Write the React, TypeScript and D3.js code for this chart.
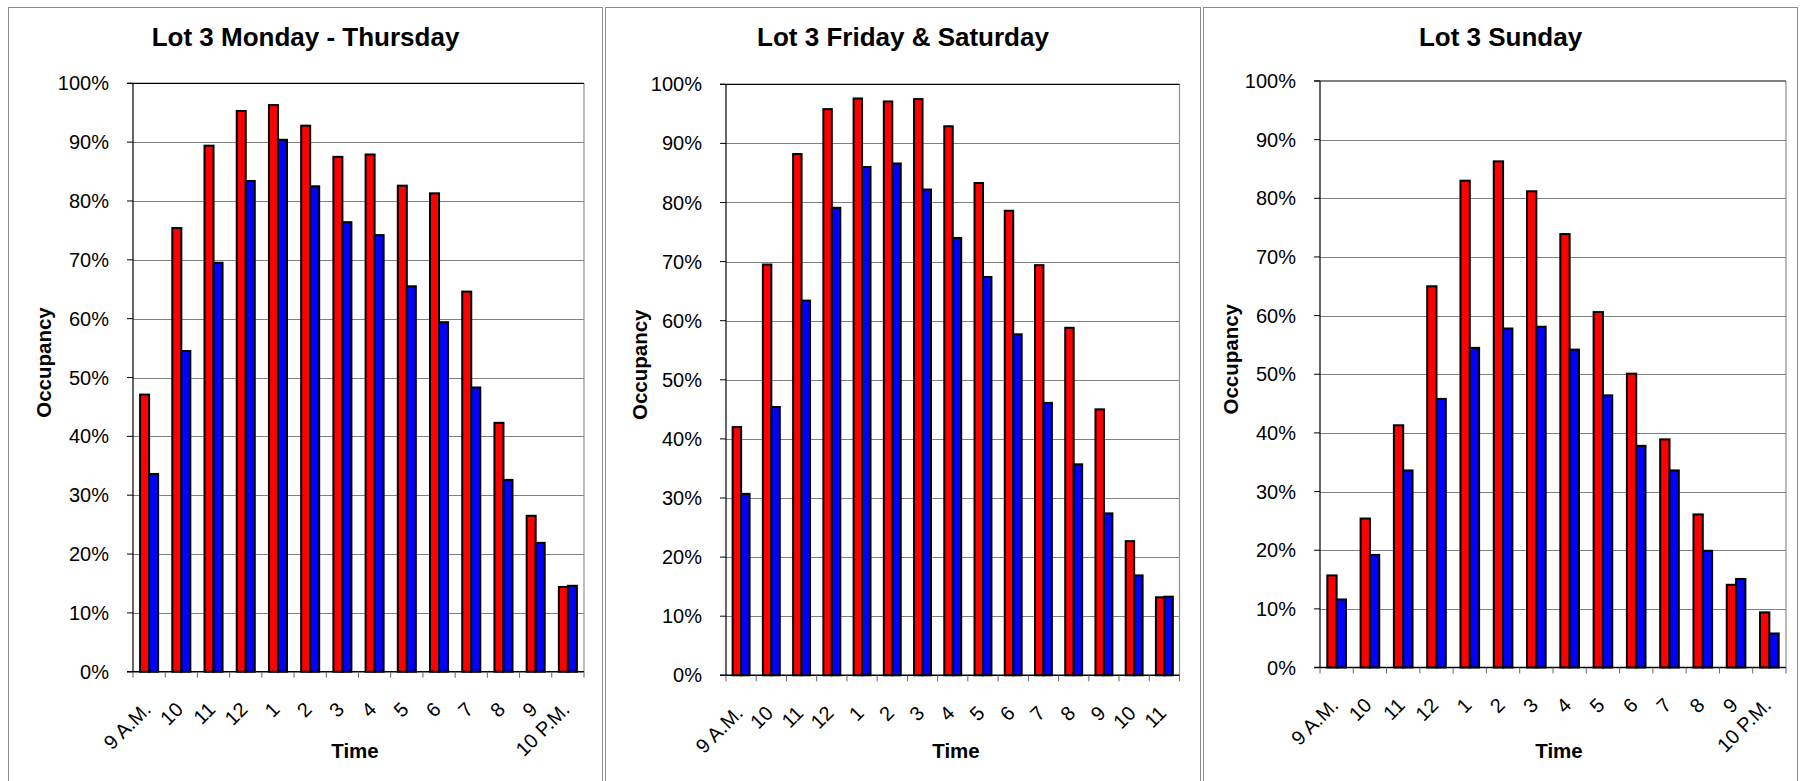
import React from "react";
import * as d3 from "d3";

// ---- Data (percent occupancy) ----
const monThuTimes = ["9 A.M.", "10", "11", "12", "1", "2", "3", "4", "5", "6", "7", "8", "9", "10 P.M."];
const monThuRed = [47.1, 75.4, 89.4, 95.3, 96.3, 92.8, 87.5, 87.9, 82.6, 81.3, 64.6, 42.3, 26.5, 14.4];
const monThuBlue = [33.6, 54.5, 69.5, 83.4, 90.4, 82.5, 76.4, 74.2, 65.5, 59.4, 48.3, 32.6, 21.9, 14.6];

const friSatTimes = ["9 A.M.", "10", "11", "12", "1", "2", "3", "4", "5", "6", "7", "8", "9", "10", "11"];
const friSatRed = [42.0, 69.5, 88.2, 95.8, 97.6, 97.1, 97.5, 92.9, 83.3, 78.6, 69.4, 58.8, 45.0, 22.7, 13.2];
const friSatBlue = [30.7, 45.4, 63.4, 79.1, 86.0, 86.6, 82.2, 74.0, 67.4, 57.7, 46.1, 35.7, 27.4, 16.9, 13.3];

const sundayTimes = ["9 A.M.", "10", "11", "12", "1", "2", "3", "4", "5", "6", "7", "8", "9", "10 P.M."];
const sundayRed = [15.7, 25.4, 41.3, 65.0, 83.0, 86.3, 81.2, 73.9, 60.6, 50.1, 38.9, 26.1, 14.1, 9.4];
const sundayBlue = [11.6, 19.2, 33.6, 45.8, 54.5, 57.8, 58.1, 54.2, 46.4, 37.8, 33.6, 19.9, 15.1, 5.8];

const yTickValues = [0, 10, 20, 30, 40, 50, 60, 70, 80, 90, 100];
const yTickLabels = ["0%", "10%", "20%", "30%", "40%", "50%", "60%", "70%", "80%", "90%", "100%"];

const FONT = "'Liberation Sans', Arial, Helvetica, sans-serif";

type Box = { left: number; right: number; top: number; bottom: number };

type PanelProps = {
  title: string;
  cats: string[];
  red: number[];
  blue: number[];
  frameLeft: number;
  frameRight: number;
  plot: Box;
  yTitleX: number;
  xTitleX: number;
};

function Panel({ title, cats, red, blue, frameLeft, frameRight, plot, yTitleX, xTitleX }: PanelProps) {
  const idx = cats.map((_, i) => String(i));
  const x = d3.scaleBand<string>().domain(idx).range([plot.left, plot.right]).paddingInner(0).paddingOuter(0);
  const y = d3.scaleLinear().domain([0, 100]).range([plot.bottom, plot.top]);
  const band = x.bandwidth();
  const pairW = band * 0.56;
  const inner = d3.scaleBand<string>().domain(["red", "blue"]).range([0, pairW]).padding(0);
  const bw = inner.bandwidth();
  const y0 = y(0);
  const boundaries = d3.range(cats.length + 1).map((i) => plot.left + i * band);
  const titleX = (frameLeft + frameRight) / 2;
  const plotMidY = (plot.top + plot.bottom) / 2;

  return (
    <g>
      <rect x={frameLeft + 0.5} y={7.5} width={frameRight - frameLeft - 1} height={800} fill="#fff" stroke="#8c8c8c" strokeWidth={1} />
      <text x={titleX} y={45.7} textAnchor="middle" fontFamily={FONT} fontWeight="bold" fontSize={26}>
        {title}
      </text>
      {/* gridlines */}
      {yTickValues.filter((v) => v > 0 && v < 100).map((v) => (
        <line key={"g" + v} x1={plot.left} x2={plot.right} y1={Math.round(y(v)) + 0.5} y2={Math.round(y(v)) + 0.5} stroke="#808080" strokeWidth={1} />
      ))}
      {/* plot border right & top */}
      <line x1={plot.right} x2={plot.right} y1={plot.top} y2={plot.bottom} stroke="#909090" strokeWidth={1.2} />
      <line x1={plot.left - 6} x2={plot.right} y1={plot.top} y2={plot.top} stroke="#000" strokeWidth={1.2} />
      {/* bars */}
      {cats.map((_, i) => {
        const gx = (x(String(i)) as number) + (band - pairW) / 2;
        return (
          <g key={"b" + i}>
            <rect x={gx + (inner("red") as number)} y={y(red[i])} width={bw} height={y0 - y(red[i])} fill="#FF0000" stroke="#000" strokeWidth={2} />
            <rect x={gx + (inner("blue") as number)} y={y(blue[i])} width={bw} height={y0 - y(blue[i])} fill="#0000FF" stroke="#000" strokeWidth={2} />
          </g>
        );
      })}
      {/* y axis */}
      <line x1={plot.left} x2={plot.left} y1={plot.top} y2={plot.bottom} stroke="#000" strokeWidth={1.2} />
      {yTickValues.map((v, i) => (
        <g key={"yt" + v}>
          <line x1={plot.left - 6} x2={plot.left} y1={y(v)} y2={y(v)} stroke="#000" strokeWidth={1} />
          <text x={plot.left - 24} y={y(v)} textAnchor="end" dominantBaseline="central" fontFamily={FONT} fontSize={20} fill="#000">
            {yTickLabels[i]}
          </text>
        </g>
      ))}
      {/* x axis */}
      <line x1={plot.left - 6} x2={plot.right} y1={y0} y2={y0} stroke="#000" strokeWidth={1.4} />
      {boundaries.map((bx, i) => (
        <line key={"xt" + i} x1={bx} x2={bx} y1={y0} y2={y0 + 6} stroke="#666" strokeWidth={1} />
      ))}
      {cats.map((c, i) => {
        const cx = (x(String(i)) as number) + band / 2;
        return (
          <text key={"xl" + i} transform={`translate(${cx + 3},${y0 + 39}) rotate(-45)`} textAnchor="end" fontFamily={FONT} fontSize={20} fill="#000">
            {c}
          </text>
        );
      })}
      {/* axis titles */}
      <text transform={`translate(${yTitleX},${plotMidY - 15}) rotate(-90)`} textAnchor="middle" fontFamily={FONT} fontWeight="bold" fontSize={20.5}>
        Occupancy
      </text>
      <text x={xTitleX} y={758} textAnchor="middle" fontFamily={FONT} fontWeight="bold" fontSize={20.5}>
        Time
      </text>
    </g>
  );
}

export default function App() {
  return (
    <svg width={1803} height={781} style={{ position: "absolute", left: 0, top: 0, background: "#fff" }}>
      <rect x={0} y={0} width={1803} height={781} fill="#fff" />
      <Panel
        title="Lot 3 Monday - Thursday"
        cats={monThuTimes}
        red={monThuRed}
        blue={monThuBlue}
        frameLeft={8}
        frameRight={603}
        plot={{ left: 133, right: 584, top: 83.3, bottom: 671.7 }}
        yTitleX={50.5}
        xTitleX={355}
      />
      <Panel
        title="Lot 3 Friday & Saturday"
        cats={friSatTimes}
        red={friSatRed}
        blue={friSatBlue}
        frameLeft={605}
        frameRight={1201}
        plot={{ left: 726, right: 1179.5, top: 84.3, bottom: 675.3 }}
        yTitleX={647}
        xTitleX={956}
      />
      <Panel
        title="Lot 3 Sunday"
        cats={sundayTimes}
        red={sundayRed}
        blue={sundayBlue}
        frameLeft={1203}
        frameRight={1798}
        plot={{ left: 1320, right: 1786, top: 81, bottom: 667.5 }}
        yTitleX={1238}
        xTitleX={1559}
      />
    </svg>
  );
}
